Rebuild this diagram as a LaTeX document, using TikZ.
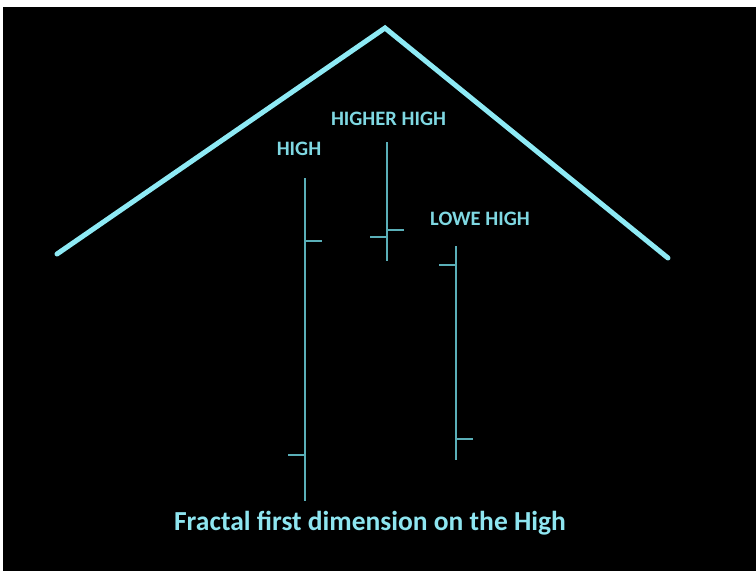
\documentclass[tikz,border=0pt]{standalone}
\usepackage{fontspec}
\setmainfont{Carlito}
\definecolor{roof}{HTML}{8EEAF5}
\definecolor{bar}{HTML}{5AAFB8}
\definecolor{lbl}{HTML}{7FD8E2}
\definecolor{ttl}{HTML}{8EE5F0}
\begin{document}
\begin{tikzpicture}[x=1pt,y=-1pt,
  roofline/.style={draw=roof,line width=5pt,line cap=round,line join=miter},
  barline/.style={draw=bar,line width=2.2pt},
  lab/.style={text=lbl,font=\fontsize{20.5}{22}\selectfont\bfseries,inner sep=0pt},
  title/.style={text=ttl,font=\fontsize{27.5}{30}\selectfont\bfseries,inner sep=0pt}]
\useasboundingbox (0,0) rectangle (756,571);
\fill[white] (0,0) rectangle (756,571);
\fill[black] (3,7) rectangle (756,571);
% roof
\coordinate (rl) at (57,254);
\coordinate (ra) at (385,28);
\coordinate (rr) at (668,258);
\draw[roofline] (rl) -- (ra) -- (rr);
% bar 1
\coordinate (b1t) at (305,178);
\coordinate (b1b) at (305,501);
\coordinate (b1c) at (305,241);
\coordinate (b1ce) at (322,241);
\coordinate (b1o) at (305,455);
\coordinate (b1oe) at (288,455);
\draw[barline] (b1t) -- (b1b);
\draw[barline] (b1c) -- (b1ce);
\draw[barline] (b1o) -- (b1oe);
% bar 2
\coordinate (b2t) at (387,142);
\coordinate (b2b) at (387,261);
\coordinate (b2c) at (387,230);
\coordinate (b2ce) at (404,230);
\coordinate (b2o) at (387,237);
\coordinate (b2oe) at (370,237);
\draw[barline] (b2t) -- (b2b);
\draw[barline] (b2c) -- (b2ce);
\draw[barline] (b2o) -- (b2oe);
% bar 3
\coordinate (b3t) at (456,246);
\coordinate (b3b) at (456,460);
\coordinate (b3c) at (456,439);
\coordinate (b3ce) at (473,439);
\coordinate (b3o) at (456,265);
\coordinate (b3oe) at (439,265);
\draw[barline] (b3t) -- (b3b);
\draw[barline] (b3c) -- (b3ce);
\draw[barline] (b3o) -- (b3oe);
% labels
\node[lab] (l1) at (299,149) {HIGH};
\node[lab] (l2) at (388.5,119) {HIGHER HIGH};
\node[lab] (l3) at (480,219) {LOWE HIGH};
\node[title] (t) at (370,523) {Fractal first dimension on the High};
\end{tikzpicture}
\end{document}
